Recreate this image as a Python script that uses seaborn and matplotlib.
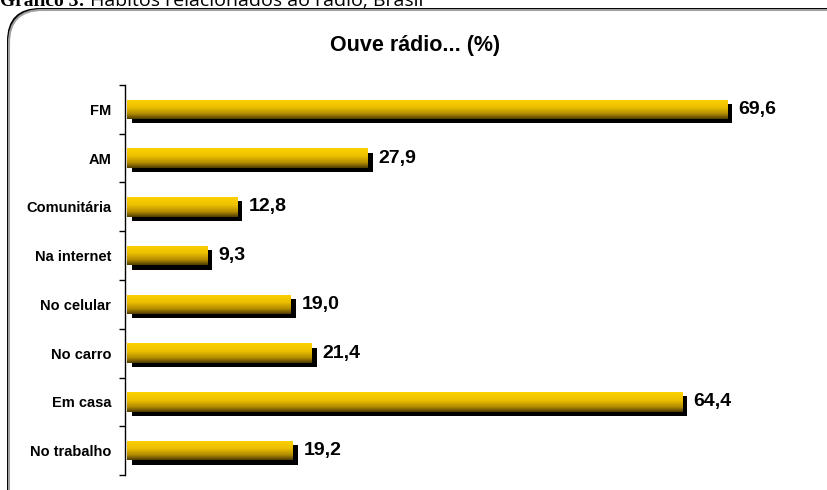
import numpy as np
import pandas as pd
import matplotlib
matplotlib.use("Agg")
import matplotlib.pyplot as plt
import seaborn as sns
from matplotlib.patches import FancyBboxPatch
from matplotlib.colors import LinearSegmentedColormap
import matplotlib.patheffects as pe

categories = ["FM", "AM", "Comunitária", "Na internet", "No celular", "No carro", "Em casa", "No trabalho"]
values = [69.6, 27.9, 12.8, 9.3, 19.0, 21.4, 64.4, 19.2]
value_labels = ["69,6", "27,9", "12,8", "9,3", "19,0", "21,4", "64,4", "19,2"]
title = "Ouve rádio... (%)"
caption_bold = "Gráfico 3:"
caption_rest = " Hábitos relacionados ao rádio, Brasil"

sns.set_theme(style="white")
plt.rcParams["font.family"] = ["Liberation Sans", "DejaVu Sans"]
plt.rcParams["text.color"] = "black"

W, H = 828, 490
fig = plt.figure(figsize=(W / 100, H / 100), dpi=100)
fig.patch.set_facecolor("white")

shadow = FancyBboxPatch((7 / W, -0.1), 1.2, 1 - 8 / H + 0.1,
                        boxstyle="round,pad=0,rounding_size=0.04",
                        transform=fig.transFigure, facecolor="black",
                        edgecolor="none", zorder=0, mutation_aspect=W / H)
fig.patches.append(shadow)
frame = FancyBboxPatch((9 / W, -0.1), 1.2, 1 - 10 / H + 0.1,
                       boxstyle="round,pad=0,rounding_size=0.04",
                       transform=fig.transFigure, facecolor="white",
                       edgecolor="#a0a0a0", linewidth=1.5, zorder=1,
                       mutation_aspect=W / H)
fig.patches.append(frame)

# caption (partly cut off at the top, as in the reference)
t1 = fig.text(0.0, 1 - 6 / H, caption_bold, fontsize=14, fontweight="bold",
              family=["Liberation Serif", "DejaVu Serif"], va="baseline", ha="left",
              zorder=0)
fig.canvas.draw()
bb = t1.get_window_extent()
fig.text(bb.x1 / W, 1 - 6 / H, caption_rest, fontsize=14,
         family=["Open Sans", "DejaVu Sans"], va="baseline", ha="left", zorder=0)

left, right = 125 / W, (125 + 692) / W
bottom, top = 1 - 475 / H, 1 - 85 / H
ax = fig.add_axes([left, bottom, right - left, top - bottom])
ax.set_facecolor("none")
ax.set_zorder(2)

df = pd.DataFrame({"cat": categories, "val": values})
sns.barplot(data=df, x="val", y="cat", orient="h", color="#F0C000",
            width=0.4, ax=ax, saturation=1)

cmap = LinearSegmentedColormap.from_list(
    "gold", [(0, "#FCD200"), (0.4, "#EDC000"), (0.75, "#B08A00"), (1, "#4E3C00")])
grad = np.linspace(0, 1, 64).reshape(-1, 1)
for p in ax.patches:
    p.set_edgecolor("none")
    p.set_path_effects([pe.SimplePatchShadow(offset=(3.5, -3), shadow_rgbFace="black", alpha=1.0),
                        pe.Normal()])
    x0, y0 = p.get_x(), p.get_y()
    w, h = p.get_width(), p.get_height()
    im = ax.imshow(grad, cmap=cmap, aspect="auto", extent=(x0, x0 + w, y0 + h, y0),
                   origin="upper", zorder=3, interpolation="bilinear")
    im.set_clip_path(p)

ax.set_xlim(-0.25, 80)
ax.set_ylim(7.5, -0.5)

for i, (v, lab) in enumerate(zip(values, value_labels)):
    ax.annotate(lab, xy=(v, i), xytext=(8, 0), textcoords="offset points",
                va="center", ha="left", fontsize=14, fontweight="bold", color="black")

ax.set_xlabel("")
ax.set_ylabel("")
ax.set_xticks([])
ax.set_yticks(np.arange(len(categories)))
ax.set_yticklabels(categories, fontsize=10.5, fontweight="bold", color="black")
ax.set_yticks(np.arange(-0.5, len(categories), 1), minor=True)
ax.tick_params(axis="y", which="major", length=0, pad=10)
ax.tick_params(axis="y", which="minor", length=4, width=1, color="black", left=True)
for s in ["top", "right", "bottom"]:
    ax.spines[s].set_visible(False)
ax.spines["left"].set_color("black")
ax.spines["left"].set_linewidth(1)

fig.text(415 / W, 1 - 46 / H, title, fontsize=15.5, fontweight="bold",
         ha="center", va="center", color="black")

fig.savefig("out.png", dpi=100)
